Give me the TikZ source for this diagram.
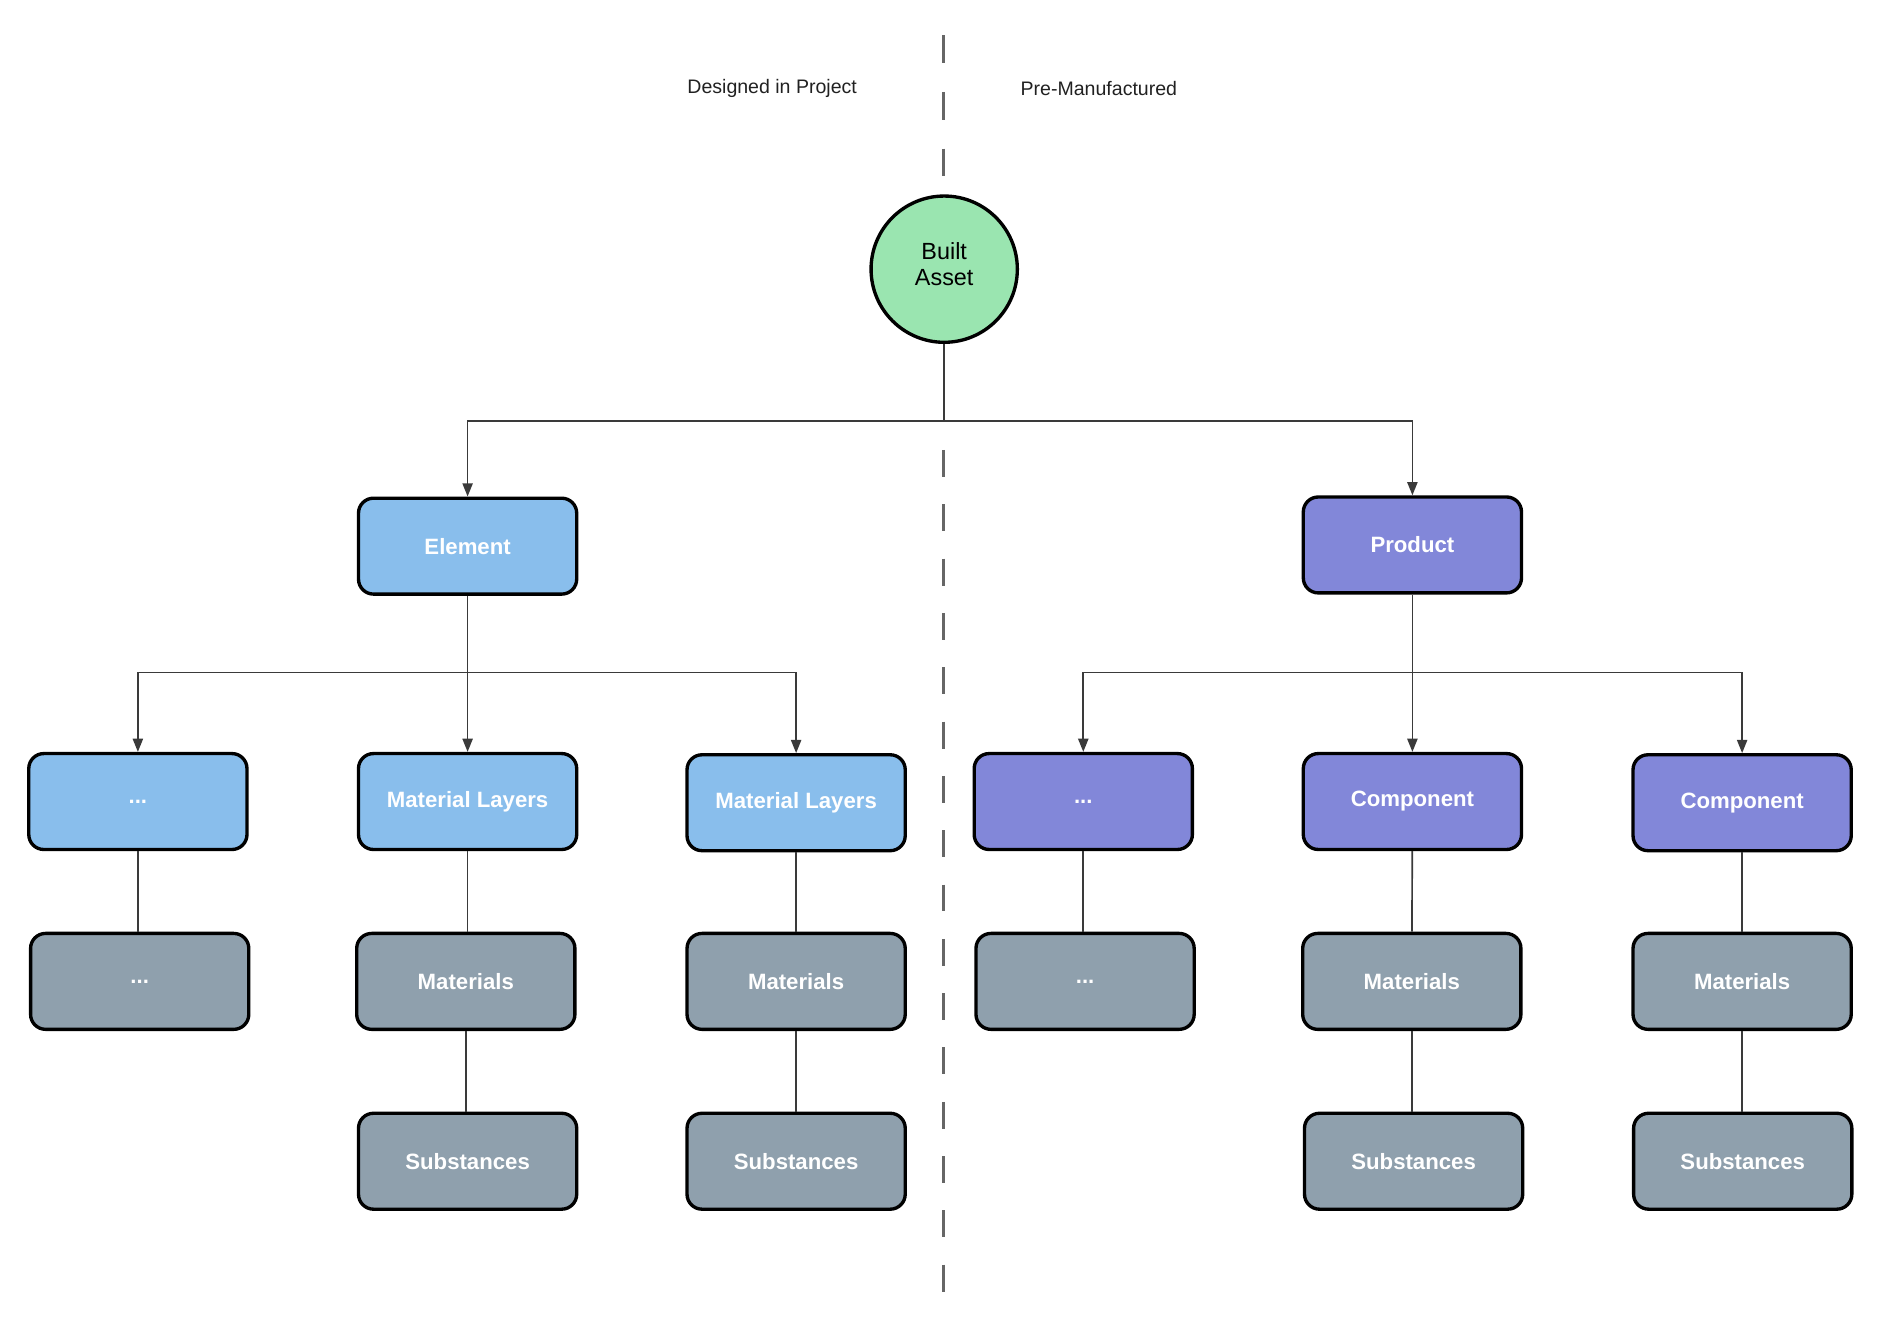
\documentclass[tikz,border=0pt]{standalone}
\usepackage{fontspec}
\setmainfont{Liberation Sans}
\usetikzlibrary{arrows.meta}
\definecolor{cblue}{HTML}{89BEEC}
\definecolor{cpurple}{HTML}{8287D9}
\definecolor{cgray}{HTML}{8FA0AD}
\definecolor{cgreen}{HTML}{9AE5B0}
\definecolor{cline}{HTML}{3A3A3A}
\definecolor{cdash}{HTML}{666666}
\begin{document}
\begin{tikzpicture}[x=1pt,y=-1pt,
  box/.style={draw=black, line width=2.8pt, rounded corners=12.5pt,
    minimum width=182pt, minimum height=80pt, inner sep=0pt,
    font=\fontsize{18.5}{22}\selectfont\bfseries, text=white},
  bluebox/.style={box, fill=cblue},
  purplebox/.style={box, fill=cpurple},
  graybox/.style={box, fill=cgray},
  conn/.style={draw=cline, line width=1.4pt},
  arr/.style={conn, -{Triangle[length=11pt,width=8.5pt]}},
  divider/.style={draw=cdash, line width=2.2pt},
  toplabel/.style={font=\fontsize{16.3}{19}\selectfont, text=black!87}
]
\useasboundingbox (0,0) rectangle (1568,1108.5);

% divider
\coordinate (d1) at (787,29.5);
\coordinate (d2) at (787,148);
\coordinate (d3) at (787,375.3);
\coordinate (d4) at (787,1078);
\draw[divider, dash pattern=on 23.2pt off 24pt] (d1) -- (d2);
\draw[divider, dash pattern=on 22.5pt off 22.8pt] (d3) -- (d4);

\node[toplabel] (lblL) at (644,73.5) {Designed in Project};
\node[toplabel] (lblR) at (916.5,73.5) {Pre-Manufactured};

% nodes
\node[circle, draw=black, line width=2.8pt, fill=cgreen, minimum size=122pt, inner sep=0pt,
  align=center, text depth=9pt, font=\fontsize{19.5}{22}\selectfont, text=black] (ba) at (787.5,224.5) {Built\\Asset};

\node[bluebox] (el) at (390,455.5) {Element};
\node[purplebox] (pr) at (1178,454.5) {Product};

\node[bluebox] (a1) at (115,668.5) {...};
\node[bluebox] (a2) at (390,668.5) {Material Layers};
\node[bluebox] (a3) at (664,669.5) {Material Layers};
\node[purplebox] (b1) at (903.5,668.5) {...};
\node[purplebox] (b2) at (1178,668.5) {Component};
\node[purplebox] (b3) at (1453,669.5) {Component};

\node[graybox] (m1) at (116.5,818.5) {...};
\node[graybox] (m2) at (388.5,818.5) {Materials};
\node[graybox] (m3) at (664,818.5) {Materials};
\node[graybox] (m4) at (905,818.5) {...};
\node[graybox] (m5) at (1177.5,818.5) {Materials};
\node[graybox] (m6) at (1453,818.5) {Materials};

\node[graybox] (s2) at (390,968.5) {Substances};
\node[graybox] (s3) at (664,968.5) {Substances};
\node[graybox] (s5) at (1179,968.5) {Substances};
\node[graybox] (s6) at (1453.5,968.5) {Substances};

% connectors level 1
\coordinate (j0) at (787.5,351);
\draw[conn] (ba) -- (j0);
\draw[arr] (j0) -| (el);
\draw[arr] (j0) -| (pr);

% connectors level 2
\coordinate (jl) at (390,561);
\coordinate (jr) at (1178,561);
\draw[arr] (el) -- (a2);
\draw[arr] (jl) -| (a1);
\draw[arr] (jl) -| (a3);
\draw[arr] (pr) -- (b2);
\draw[arr] (jr) -| (b1);
\draw[arr] (jr) -| (b3);

% connectors level 3 and 4
\draw[conn] (a1) -- (a1 |- m1.north);
\draw[conn] (a2) -- (a2 |- m2.north);
\draw[conn] (a3) -- (m3);
\draw[conn] (b1) -- (b1 |- m4.north);
\draw[conn] (b2) -- (m5);
\draw[conn] (b3) -- (m6);
\draw[conn] (m2) -- (m2 |- s2.north);
\draw[conn] (m3) -- (s3);
\draw[conn] (m5) -- (m5 |- s5.north);
\draw[conn] (m6) -- (m6 |- s6.north);
\end{tikzpicture}
\end{document}
